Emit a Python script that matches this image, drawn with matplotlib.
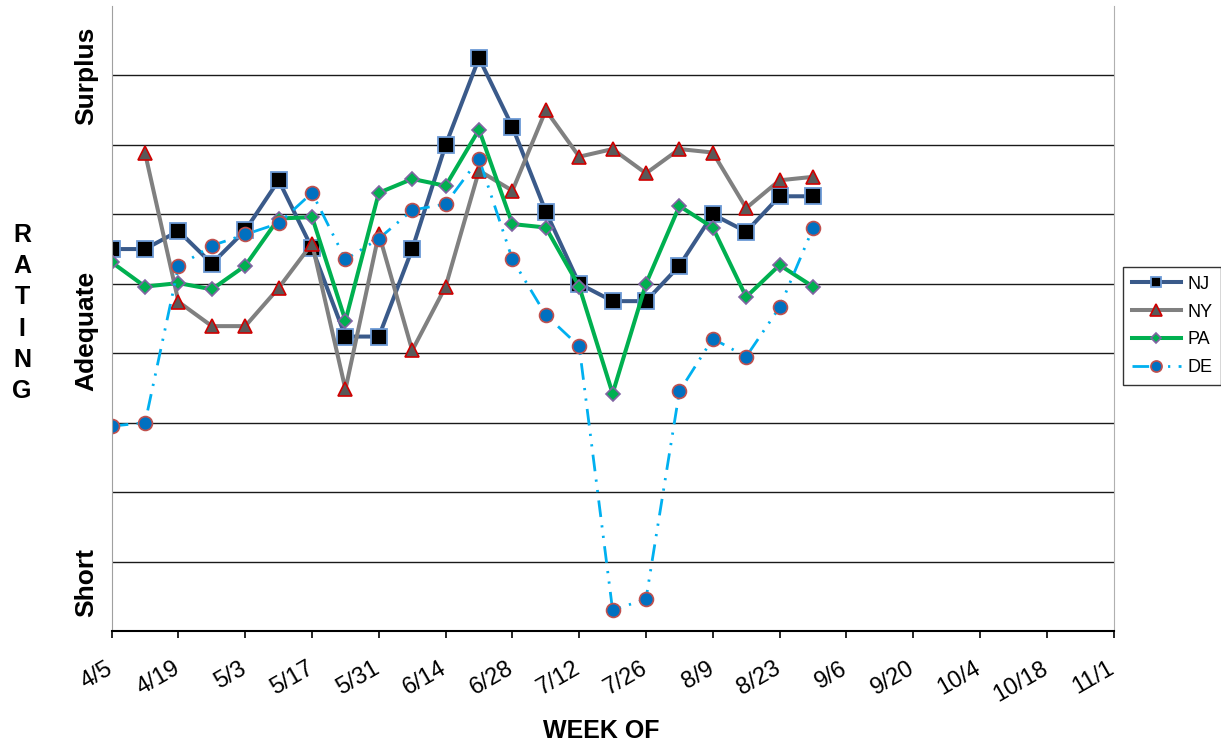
import numpy as np
import matplotlib
matplotlib.use("Agg")
import matplotlib.pyplot as plt
import matplotlib.transforms as mtransforms

plt.rcParams['font.family'] = ['Liberation Sans', 'DejaVu Sans']

# weekly observations
weeks = ["4/5", "4/12", "4/19", "4/26", "5/3", "5/10", "5/17", "5/24", "5/31",
         "6/7", "6/14", "6/21", "6/28", "7/5", "7/12", "7/19", "7/26", "8/2",
         "8/9", "8/16", "8/23", "8/30"]
nj = [5.50, 5.50, 5.76, 5.29, 5.77, 6.49, 5.51, 4.24, 4.24, 5.50, 7.00, 8.25,
      7.26, 6.04, 5.00, 4.75, 4.75, 5.26, 6.00, 5.75, 6.26, 6.26]
ny = [np.nan, 6.88, 4.74, 4.39, 4.39, 4.94, 5.58, 3.48, 5.72, 4.04, 4.96, 6.63,
      6.34, 7.50, 6.83, 6.94, 6.59, 6.94, 6.89, 6.09, 6.49, 6.54]
pa = [5.31, 4.96, 5.01, 4.92, 5.26, 5.94, 5.96, 4.47, 6.31, 6.51, 6.41, 7.22,
      5.86, 5.81, 4.96, 3.42, 5.00, 6.12, 5.81, 4.81, 5.27, 4.96]
de = [2.95, 3.00, 5.25, 5.55, 5.71, 5.87, 6.31, 5.35, 5.65, 6.06, 6.15, 6.80,
      5.35, 4.55, 4.10, 0.30, 0.46, 3.45, 4.21, 3.95, 4.66, 5.80]

# axis tick labels (every two weeks)
tick_labels = ["4/5", "4/19", "5/3", "5/17", "5/31", "6/14", "6/28", "7/12",
               "7/26", "8/9", "8/23", "9/6", "9/20", "10/4", "10/18", "11/1"]
rating_labels = ["Surplus", "Adequate", "Short"]
rating_pos = [8.0, 4.32, 0.7]

x = np.arange(len(weeks))

fig = plt.figure(figsize=(12.21, 7.47), dpi=100)
ax = fig.add_axes([111.7 / 1221, (747 - 631) / 747, 1001.8 / 1221, 625 / 747])

ax.plot(x, nj, color='#3A5A8A', lw=2.9, marker='s', ms=11,
        mfc='black', mec='#6C9AD6', mew=1.3, label='NJ')
ax.plot(x, ny, color='#808080', lw=2.9, marker='^', ms=10.5,
        mfc='#595959', mec='#D00000', mew=1.2, label='NY')
ax.plot(x, pa, color='#00B050', lw=2.9, marker='D', ms=7.2,
        mfc='#00B050', mec='#8064A2', mew=1.2, label='PA')
ax.plot(x, de, color='#00B0F0', lw=2.0, ls=(0, (6, 3, 0.8, 3, 0.8, 3)),
        marker='o', ms=10, mfc='#0070C0', mec='#C0504D', mew=1.2, label='DE')

# gridlines
for g in range(1, 9):
    ax.axhline(g, color='#1A1A1A', lw=1.0, zorder=0)

ax.set_xlim(0, 30)
ax.set_ylim(0, 9)
ax.set_xticks(np.arange(0, 31, 2))
ax.set_xticklabels(tick_labels, rotation=30, ha='right', fontsize=17)
ax.tick_params(axis='x', direction='out', length=5, width=1.2, pad=14)
ax.set_yticks([])
offset = mtransforms.ScaledTranslation(5 / 100, 0, fig.dpi_scale_trans)
for lab in ax.get_xticklabels():
    lab.set_transform(lab.get_transform() + offset)

ax.spines['top'].set_visible(False)
ax.spines['left'].set_color('#A0A0A0')
ax.spines['right'].set_color('#B0B0B0')
ax.spines['bottom'].set_color('black')
ax.spines['bottom'].set_linewidth(1.5)

# rating labels along the left side
trans = mtransforms.blended_transform_factory(ax.transAxes, ax.transData)
for lab, pos in zip(rating_labels, rating_pos):
    ax.text(-0.0137, pos, lab, transform=trans, rotation=90, ha='right',
            va='center', fontsize=19, fontweight='bold')

fig.text(22 / 1221, (747 - 313) / 747, "R\nA\nT\nI\nN\nG", ha='center',
         va='center', fontsize=18, fontweight='bold', linespacing=1.37)
fig.text(601 / 1221, (747 - 731) / 747, "WEEK OF", ha='center', va='center',
         fontsize=18, fontweight='bold')

leg = fig.legend(loc='center left', bbox_to_anchor=(1123 / 1221, (747 - 326) / 747),
                 fontsize=13, handlelength=2.7, frameon=True, fancybox=False,
                 edgecolor='black', borderpad=0.5, labelspacing=0.6,
                 handletextpad=0.35, borderaxespad=0)
leg.get_frame().set_linewidth(1.0)
for h, s in zip(leg.legend_handles, [7, 8, 5, 8]):
    h.set_markersize(s)

fig.savefig("out.png", dpi=100)
